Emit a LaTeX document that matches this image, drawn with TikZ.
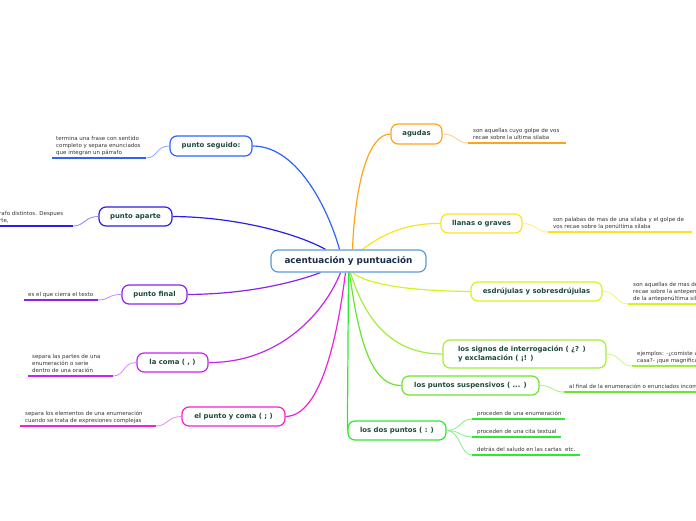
\documentclass[tikz,border=0pt]{standalone}
\usepackage{fontspec}
\setmainfont{DejaVu Sans}
\usetikzlibrary{backgrounds}
\definecolor{corange}{HTML}{FFA31A}
\definecolor{cyellow}{HTML}{FFE21F}
\definecolor{clime}{HTML}{D8F21F}
\definecolor{csignos}{HTML}{A3EE3A}
\definecolor{csusp}{HTML}{6BE62E}
\definecolor{cdos}{HTML}{2EEA2E}
\definecolor{cseg}{HTML}{2B63FF}
\definecolor{capa}{HTML}{2A1EEA}
\definecolor{cfin}{HTML}{8C22EE}
\definecolor{ccoma}{HTML}{C823EE}
\definecolor{cpyc}{HTML}{EE22D6}
\definecolor{cblue}{HTML}{5C9BD6}
\definecolor{labelc}{HTML}{1D4A3A}
\definecolor{navy}{HTML}{1C2B4A}
\definecolor{txtc}{HTML}{333333}
\tikzset{
  box/.style={draw, rounded corners=7pt, fill=white, line width=1.2pt,
    font=\fontsize{6.9}{8.6}\selectfont\bfseries, text=labelc, inner sep=0pt, minimum height=19pt},
  mainc/.style={line width=1.2pt},
  subc/.style={line width=0.8pt},
  ul/.style={line width=1.8pt},
  txt/.style={font=\fontsize{5.5}{7.2}\selectfont, text=txtc, align=left, inner sep=0pt,
    anchor=south west, text depth=1.3pt}
}
\begin{document}
\begin{tikzpicture}[x=1pt,y=-1pt]
\useasboundingbox (0,0) rectangle (696,520);
\clip (0,0) rectangle (696,520);

% central
\node[box, draw=cblue, minimum width=155pt, minimum height=22pt,
  font=\fontsize{8.8}{10}\selectfont\bfseries, text=navy] (c) at (348.5,261) {acentuación y puntuación};

% right side nodes
\node[box, draw=corange, minimum width=51pt, minimum height=20pt] (ag) at (416.5,134) {agudas};
\node[box, draw=cyellow, minimum width=81pt] (ll) at (481.5,223.5) {llanas o graves};
\node[box, draw=clime, minimum width=131pt] (es) at (536.5,291.5) {esdrújulas y sobresdrújulas};
\node[box, draw=csignos, minimum width=163pt, minimum height=28pt, align=left, text width=133pt] (si) at (524.5,354) {los signos de interrogación ( ¿? )\\y exclamación ( ¡! )};
\node[box, draw=csusp, minimum width=137pt] (su) at (470.5,385.5) {los puntos suspensivos ( ... )};
\node[box, draw=cdos, minimum width=98pt] (dp) at (397,430.5) {los dos puntos ( : )};

% left side nodes
\node[box, draw=cseg, minimum width=82pt, minimum height=20pt] (ps) at (211,146) {punto seguido:};
\node[box, draw=capa, minimum width=73pt] (pa) at (135.5,216.5) {punto aparte};
\node[box, draw=cfin, minimum width=65pt] (pf) at (154.5,294.5) {punto final};
\node[box, draw=ccoma, minimum width=71pt] (co) at (172.5,362.5) {la coma ( , )};
\node[box, draw=cpyc, minimum width=103pt] (pc) at (233.5,416.5) {el punto y coma ( ; )};

% underline coordinates
\coordinate (ag1) at (468,143); \coordinate (ag2) at (566,143);
\coordinate (ll1) at (548,232); \coordinate (ll2) at (692,232);
\coordinate (es1) at (628,304); \coordinate (es2) at (700,304);
\coordinate (si1) at (632,366); \coordinate (si2) at (700,366);
\coordinate (su1) at (564,392); \coordinate (su2) at (700,392);
\coordinate (da1) at (472,419); \coordinate (da2) at (565,419);
\coordinate (db1) at (472,437); \coordinate (db2) at (561,437);
\coordinate (dc1) at (472,455); \coordinate (dc2) at (580,455);
\coordinate (ps1) at (146,158); \coordinate (ps2) at (52,158);
\coordinate (pa1) at (73,226); \coordinate (pa2) at (-5,226);
\coordinate (pf1) at (98,300); \coordinate (pf2) at (24,300);
\coordinate (co1) at (113,376); \coordinate (co2) at (28,376);
\coordinate (pc1) at (156,426); \coordinate (pc2) at (20,426);

% texts
\node[txt] (tag) at (473,141) {son aquellas cuyo golpe de vos\\recae sobre la ultima silaba};
\node[txt] (tll) at (553,230) {son palabas de mas de una silaba y el golpe de\\vos recae sobre la penúltima silaba};
\node[txt] (tes) at (633,302) {son aquellas de mas de una silaba\\recae sobre la antepenúltima\\de la antepenúltima silaba};
\node[txt] (tsi) at (637,364) {ejemplos: -¿comiste algo en\\casa?- ¡que magnifica vista!};
\node[txt] (tsu) at (569,390) {al final de la enumeración o enunciados incompletos};
\node[txt] (tda) at (477,417) {proceden de una enumeración};
\node[txt] (tdb) at (477,435) {proceden de una cita textual};
\node[txt] (tdc) at (477,453) {detrás del saludo en las cartas~~etc.};
\node[txt] (tps) at (56,156) {termina una frase con sentido\\completo y separa enunciados\\que integran un párrafo};
\node[txt] (tpa) at (-1,224) {rafo distintos. Despues\\rte,};
\node[txt] (tpf) at (28,298) {es el que cierra el texto};
\node[txt] (tco) at (32,374) {separa las partes de una\\enumeración o serie\\dentro de una oración};
\node[txt] (tpc) at (25,424) {separa los elementos de una enumeración\\cuando se trata de expresiones complejas};

\begin{scope}[on background layer]
% main connectors
\draw[mainc, corange] ([xshift=4pt]c.north) .. controls (355,185) and (368,134) .. (ag.west);
\draw[mainc, cyellow] ([xshift=14pt]c.north) .. controls (385,232) and (410,223) .. (ll.west);
\draw[mainc, clime] ([xshift=4pt]c.south) .. controls (372,288) and (430,291) .. (es.west);
\draw[mainc, csignos] ([xshift=2pt]c.south) .. controls (368,330) and (400,354) .. (si.west);
\draw[mainc, csusp] ([xshift=1pt]c.south) .. controls (360,352) and (375,386) .. (su.west);
\draw[mainc, cdos] (c.south) -- (dp.west);
\draw[mainc, cseg] (ps.east) .. controls (300,146) and (330,215) .. ([xshift=-9pt]c.north);
\draw[mainc, capa] (pa.east) .. controls (240,217) and (300,235) .. ([xshift=-23pt]c.north);
\draw[mainc, cfin] (pf.east) .. controls (250,294) and (295,282) .. ([xshift=-28pt]c.south);
\draw[mainc, ccoma] (co.east) .. controls (280,363) and (325,312) .. ([xshift=-8pt]c.south);
\draw[mainc, cpyc] (pc.east) .. controls (322,416) and (338,332) .. ([xshift=-3pt]c.south);
\end{scope}

% sub connectors and underlines
\draw[subc, corange!55] (ag.east) .. controls +(14,0) and +(-12,0) .. (ag1);
\draw[ul, corange] (ag1) -- (ag2);
\draw[subc, cyellow!60] (ll.east) .. controls +(14,0) and +(-12,0) .. (ll1);
\draw[ul, cyellow] (ll1) -- (ll2);
\draw[subc, clime!60] (es.east) .. controls +(14,0) and +(-12,0) .. (es1);
\draw[ul, clime] (es1) -- (es2);
\draw[subc, csignos!60] (si.east) .. controls +(14,0) and +(-12,0) .. (si1);
\draw[ul, csignos] (si1) -- (si2);
\draw[subc, csusp!60] (su.east) .. controls +(14,0) and +(-12,0) .. (su1);
\draw[ul, csusp] (su1) -- (su2);
\draw[subc, cdos!60] (dp.east) .. controls +(14,0) and +(-12,0) .. (da1);
\draw[ul, cdos] (da1) -- (da2);
\draw[subc, cdos!60] (dp.east) .. controls +(14,0) and +(-12,0) .. (db1);
\draw[ul, cdos] (db1) -- (db2);
\draw[subc, cdos!60] (dp.east) .. controls +(14,0) and +(-12,0) .. (dc1);
\draw[ul, cdos] (dc1) -- (dc2);
\draw[subc, cseg!55] (ps.west) .. controls +(-14,0) and +(12,0) .. (ps1);
\draw[ul, cseg] (ps1) -- (ps2);
\draw[subc, capa!55] (pa.west) .. controls +(-14,0) and +(12,0) .. (pa1);
\draw[ul, capa] (pa1) -- (pa2);
\draw[subc, cfin!55] (pf.west) .. controls +(-14,0) and +(12,0) .. (pf1);
\draw[ul, cfin] (pf1) -- (pf2);
\draw[subc, ccoma!55] (co.west) .. controls +(-14,0) and +(12,0) .. (co1);
\draw[ul, ccoma] (co1) -- (co2);
\draw[subc, cpyc!55] (pc.west) .. controls +(-14,0) and +(12,0) .. (pc1);
\draw[ul, cpyc] (pc1) -- (pc2);
\end{tikzpicture}
\end{document}
